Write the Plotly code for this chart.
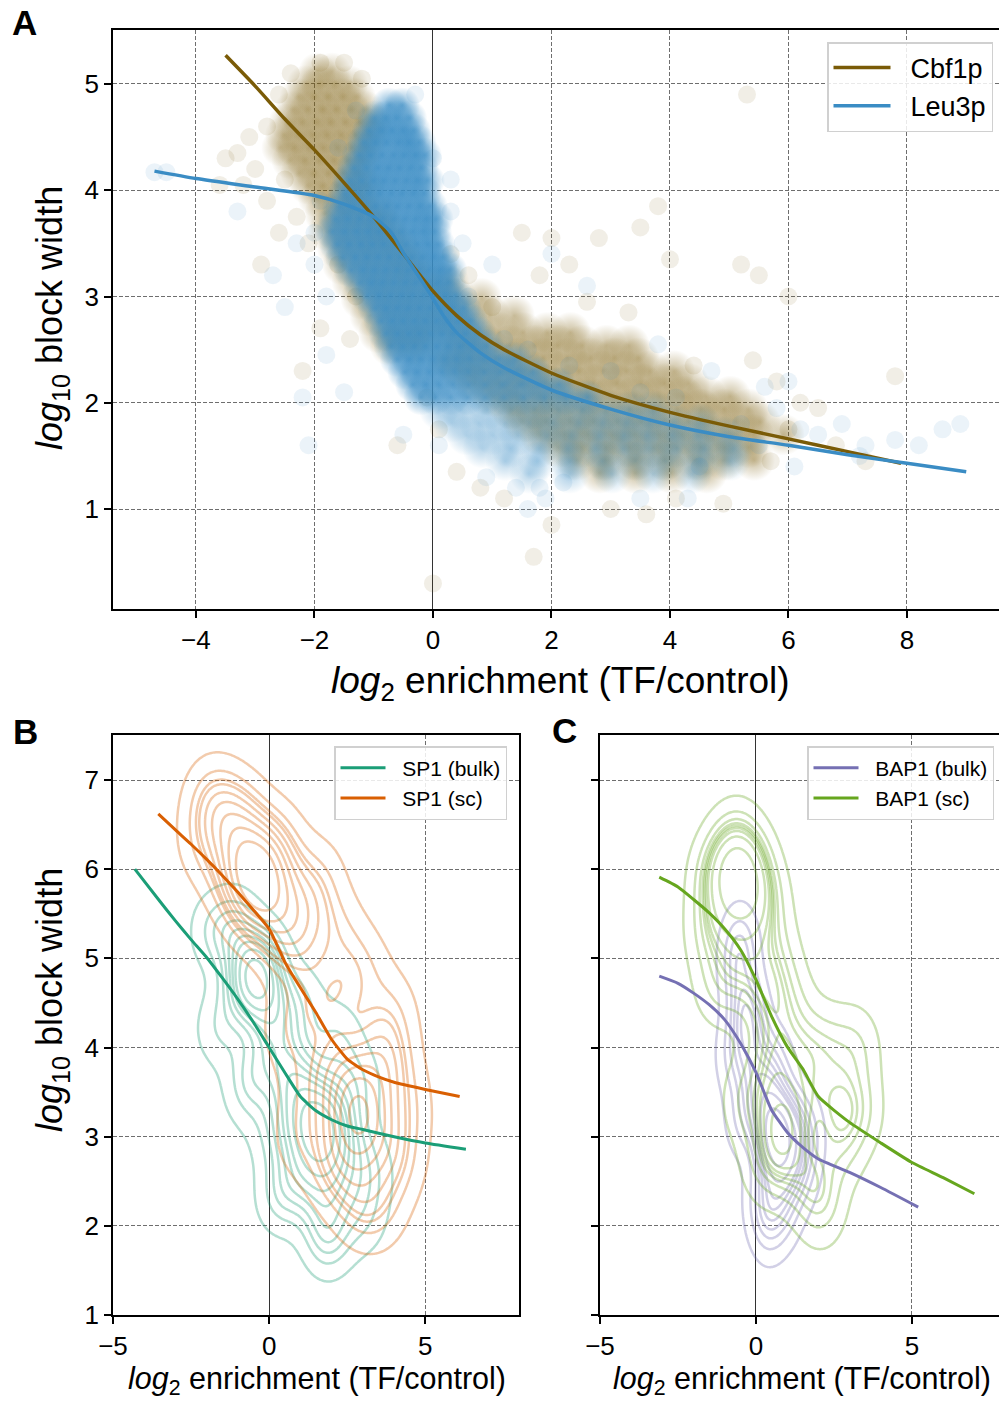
import numpy as np
import plotly.graph_objects as go

FONT = "Liberation Sans, Arial, Helvetica, sans-serif"

# ---------------- Panel A : smoothed trend curves ----------------
cbf1p_x = [-3.5, -3.0, -2.5, -2.0, -1.5, -1.0, -0.5, 0.0, 0.4, 0.8, 1.2, 2.0, 3.0, 4.0, 5.0, 6.0, 7.0, 7.9]
cbf1p_y = [5.27, 4.98, 4.67, 4.38, 4.07, 3.75, 3.40, 3.05, 2.82, 2.64, 2.50, 2.28, 2.07, 1.91, 1.78, 1.66, 1.54, 1.43]
leu3p_x = [-4.7, -4.0, -3.0, -2.0, -1.5, -1.0, -0.7, -0.5, -0.3, -0.1, 0.0, 0.2, 0.4, 0.8, 1.2, 2.0, 3.0, 4.0, 5.0, 6.0, 7.0, 8.0, 9.0]
leu3p_y = [4.18, 4.11, 4.03, 3.95, 3.87, 3.75, 3.60, 3.41, 3.24, 3.07, 2.98, 2.80, 2.66, 2.47, 2.33, 2.12, 1.94, 1.79, 1.68, 1.60, 1.51, 1.43, 1.35]

# ---------------- Panel A : scatter points (rows of y, list of x) ----------------
leu3p_core_rows = [
    (4.80, [-0.74, -0.52]),
    (4.68, [-0.98, -0.80, -0.61, -0.40]),
    (4.56, [-1.07, -0.86, -0.69, -0.50, -0.33]),
    (4.45, [-1.16, -0.97, -0.79, -0.58, -0.41, -0.24]),
    (4.33, [-1.24, -1.05, -0.86, -0.66, -0.49, -0.30, -0.15]),
    (4.21, [-1.33, -1.12, -0.93, -0.75, -0.57, -0.38, -0.20]),
    (4.09, [-1.41, -1.20, -1.00, -0.83, -0.64, -0.45, -0.27, -0.10]),
    (3.97, [-1.48, -1.28, -1.07, -0.89, -0.70, -0.52, -0.33, -0.15]),
    (3.85, [-1.57, -1.37, -1.16, -0.97, -0.78, -0.60, -0.41, -0.22, -0.05]),
    (3.73, [-1.64, -1.44, -1.24, -1.04, -0.85, -0.66, -0.47, -0.29, -0.11, 0.05]),
    (3.61, [-1.69, -1.48, -1.28, -1.09, -0.90, -0.71, -0.52, -0.33, -0.15, 0.02]),
    (3.49, [-1.62, -1.42, -1.22, -1.03, -0.84, -0.65, -0.46, -0.27, -0.09, 0.08]),
    (3.37, [-1.52, -1.31, -1.12, -0.93, -0.74, -0.55, -0.36, -0.18, 0.00, 0.16]),
    (3.25, [-1.38, -1.18, -0.99, -0.80, -0.61, -0.42, -0.24, -0.06, 0.12, 0.28]),
    (3.13, [-1.22, -1.03, -0.85, -0.66, -0.47, -0.29, -0.10, 0.08, 0.26]),
    (3.01, [-1.10, -0.91, -0.72, -0.53, -0.35, -0.16, 0.02, 0.20, 0.38]),
    (2.89, [-0.97, -0.79, -0.60, -0.42, -0.23, -0.05, 0.14, 0.32, 0.52]),
    (2.77, [-0.87, -0.68, -0.50, -0.31, -0.13, 0.06, 0.24, 0.43, 0.63]),
    (2.65, [-0.79, -0.60, -0.41, -0.23, -0.04, 0.15, 0.34, 0.54, 0.76]),
    (2.53, [-0.70, -0.51, -0.32, -0.13, 0.06, 0.25, 0.45, 0.66, 0.90]),
    (2.41, [-0.60, -0.40, -0.21, -0.01, 0.19, 0.40, 0.62, 0.86, 1.12, 1.38]),
    (2.29, [-0.47, -0.27, -0.06, 0.15, 0.37, 0.60, 0.86, 1.13, 1.41, 1.70]),
    (2.17, [-0.34, -0.12, 0.10, 0.34, 0.60, 0.88, 1.18, 1.49, 1.80, 2.12]),
    (2.05, [-0.20, 0.04, 0.30, 0.58, 0.88, 1.20, 1.53, 1.88, 2.25, 2.60]),
]
leu3p_tail_rows = [
    (1.93, [0.10, 0.47, 0.92, 1.33, 1.71, 2.12, 2.52, 2.93, 3.31, 3.72]),
    (1.81, [0.32, 0.77, 1.21, 1.63, 2.02, 2.47, 2.86, 3.27, 3.66, 4.07, 4.52]),
    (1.69, [0.57, 1.02, 1.44, 1.92, 2.33, 2.81, 3.22, 3.61, 4.03, 4.46, 4.92]),
    (1.57, [0.83, 1.31, 1.79, 2.28, 2.74, 3.21, 3.67, 4.12, 4.58, 5.08]),
    (1.45, [1.22, 1.76, 2.31, 2.86, 3.42, 3.93, 4.51, 5.02]),
    (1.33, [1.62, 2.31, 3.02, 3.71, 4.38]),
]
leu3p_faint_xy = [(-4.7, 4.17), (-4.5, 4.17), (-2.7, 3.2), (-2.0, 3.3), (-2.3, 3.5), (-3.3, 3.8),
                  (-2.5, 2.9), (-1.8, 3.0), (-0.3, 4.9), (0.0, 4.3), (0.3, 3.8), (0.5, 3.5), (1.0, 3.3),
                  (2.0, 3.4), (2.6, 3.1), (-2.1, 1.6), (-2.2, 2.05), (-1.8, 2.45), (-1.5, 2.1),
                  (-0.5, 1.7), (0.1, 1.6), (0.9, 1.3), (1.6, 1.0), (1.9, 1.1), (3.5, 1.1), (4.3, 1.1),
                  (1.8, 1.2), (2.2, 1.25), (5.8, 1.95), (6.2, 1.75), (6.5, 1.7), (6.9, 1.8), (7.3, 1.6),
                  (7.8, 1.65), (8.2, 1.6), (8.6, 1.75), (8.9, 1.8), (6.1, 1.4), (7.2, 1.5), (5.6, 2.15),
                  (6.0, 2.2), (4.7, 2.3), (3.8, 2.55), (5.5, 1.6), (5.2, 1.8), (4.5, 1.4), (3.0, 2.3),
                  (3.5, 2.1), (4.1, 2.05), (1.2, 2.6), (1.6, 2.5), (2.3, 2.35), (-1.3, 4.75),
                  (-1.6, 4.4), (-1.9, 3.9), (-2.0, 3.6), (0.3, 4.1), (0.6, 3.0), (1.4, 1.2)]

cbf1p_core_rows = [
    (5.12, [-1.95, -1.70]),
    (5.00, [-2.15, -1.92, -1.66, -1.41]),
    (4.88, [-2.27, -2.01, -1.77, -1.52, -1.28]),
    (4.76, [-2.36, -2.11, -1.86, -1.63, -1.38, -1.14]),
    (4.64, [-2.46, -2.21, -1.96, -1.73, -1.48, -1.24, -1.01]),
    (4.52, [-2.52, -2.27, -2.03, -1.79, -1.55, -1.31, -1.07]),
    (4.40, [-2.58, -2.34, -2.09, -1.85, -1.61, -1.37, -1.13]),
    (4.28, [-2.41, -2.16, -1.91, -1.67, -1.43, -1.19]),
    (4.16, [-2.26, -2.01, -1.76, -1.51, -1.26]),
    (4.04, [-2.11, -1.86, -1.61, -1.36, -1.12]),
    (3.92, [-1.96, -1.71, -1.46, -1.21]),
]
cbf1p_band_rows = [
    (3.78, [-1.82, -1.51, -1.21, -0.92]),
    (3.62, [-1.76, -1.41, -1.06, -0.76]),
    (3.46, [-1.61, -1.26, -0.91, -0.56]),
    (3.30, [-1.52, -1.12, -0.71, -0.36]),
    (3.14, [-1.36, -0.96, -0.56, -0.16, 0.26]),
    (2.98, [-1.21, -0.81, -0.41, 0.02, 0.41, 0.82]),
    (2.82, [-1.06, -0.66, -0.26, 0.16, 0.56, 0.96, 1.37]),
    (2.66, [-0.91, -0.51, -0.11, 0.31, 0.72, 1.12, 1.52, 1.93, 2.32]),
    (2.54, [-0.72, -0.31, 0.52, 0.91, 1.31, 1.72, 2.11, 2.52, 2.93, 3.31]),
    (2.42, [0.22, 0.66, 1.06, 1.46, 1.86, 2.27, 2.66, 3.06, 3.47]),
    (2.30, [0.46, 0.86, 1.27, 1.66, 2.06, 2.46, 2.87, 3.26, 3.66, 4.07]),
    (2.18, [0.71, 1.12, 1.51, 1.91, 2.32, 2.71, 3.11, 3.52, 3.91, 4.32]),
    (2.06, [1.02, 1.41, 1.82, 2.21, 2.62, 3.02, 3.41, 3.82, 4.22, 4.61, 5.02]),
    (1.94, [1.31, 1.72, 2.11, 2.52, 2.91, 3.32, 3.71, 4.12, 4.52, 4.91, 5.32]),
    (1.82, [1.52, 1.91, 2.32, 2.71, 3.12, 3.52, 3.91, 4.32, 4.71, 5.12, 5.52]),
    (1.70, [1.81, 2.22, 2.61, 3.02, 3.41, 3.82, 4.21, 4.62, 5.02, 5.41, 5.92]),
    (1.58, [2.12, 2.51, 2.92, 3.31, 3.72, 4.11, 4.52, 4.91, 5.32]),
    (1.46, [2.42, 2.91, 3.42, 3.91, 4.42, 4.91, 5.42]),
    (1.34, [2.82, 3.42, 4.02, 4.62]),
]
cbf1p_faint_xy = [(-3.3, 4.35), (-3.5, 4.3), (-3.0, 4.2), (-3.2, 4.05), (-2.8, 3.9), (-2.5, 4.1),
                  (-3.6, 4.05), (-2.3, 3.75), (-2.6, 3.6), (-2.1, 3.5), (-2.9, 3.3), (-1.6, 3.3),
                  (-1.3, 3.0), (-2.2, 2.3), (-1.9, 2.7), (-1.4, 2.6), (0.0, 0.3), (-1.9, 5.2),
                  (-1.5, 5.2), (1.8, 3.2), (2.3, 3.3), (2.8, 3.55), (3.5, 3.65), (3.8, 3.85),
                  (4.0, 3.35), (5.2, 3.3), (5.5, 3.2), (5.3, 4.9), (6.0, 3.0), (1.5, 3.6), (2.0, 3.55),
                  (5.4, 2.4), (5.8, 2.2), (6.2, 2.0), (6.5, 1.95), (6.0, 1.75), (6.8, 1.6), (7.8, 2.25),
                  (7.3, 1.45), (5.7, 1.45), (3.0, 1.0), (3.6, 0.95), (2.0, 0.85), (1.7, 0.55), (4.1, 1.1),
                  (4.9, 1.05), (1.2, 1.1), (0.8, 1.2), (0.4, 1.35), (2.6, 2.95), (3.3, 2.85), (4.4, 2.35),
                  (0.3, 3.4), (0.6, 3.2), (1.0, 2.9), (-0.6, 1.6), (0.1, 1.75), (-0.1, 2.05),
                  (-2.8, 4.6), (-2.6, 4.9), (-2.4, 5.1), (-1.2, 5.05), (-3.1, 4.5)]

# ---------------- Panel B / C : trend curves ----------------
sp1_bulk_x = [-4.3, -3.5, -3.0, -2.5, -2.0, -1.5, -1.0, -0.5, 0.0, 0.5, 1.0, 1.5, 2.0, 2.5, 3.0, 4.0, 5.0, 6.3]
sp1_bulk_y = [6.00, 5.64, 5.42, 5.21, 5.01, 4.78, 4.54, 4.28, 4.00, 3.72, 3.45, 3.29, 3.19, 3.12, 3.08, 3.00, 2.93, 2.86]
sp1_sc_x = [-3.55, -3.0, -2.5, -2.0, -1.5, -1.0, -0.5, 0.0, 0.25, 0.5, 0.75, 1.0, 1.5, 2.0, 2.5, 3.0, 3.5, 4.0, 5.0, 6.1]
sp1_sc_y = [6.62, 6.44, 6.28, 6.11, 5.93, 5.74, 5.54, 5.33, 5.15, 4.96, 4.81, 4.67, 4.39, 4.09, 3.87, 3.75, 3.67, 3.61, 3.53, 3.45]
bap1_bulk_x = [-3.1, -2.5, -2.0, -1.5, -1.0, -0.5, 0.0, 0.5, 1.0, 1.5, 2.0, 3.0, 4.0, 5.2]
bap1_bulk_y = [4.80, 4.72, 4.61, 4.48, 4.31, 4.05, 3.72, 3.30, 3.05, 2.88, 2.75, 2.60, 2.43, 2.21]
bap1_sc_x = [-3.1, -2.5, -2.0, -1.5, -1.0, -0.5, 0.0, 0.5, 1.0, 1.5, 2.0, 3.0, 4.0, 5.0, 6.0, 7.0]
bap1_sc_y = [5.91, 5.80, 5.66, 5.51, 5.33, 5.10, 4.76, 4.35, 4.01, 3.76, 3.45, 3.16, 2.93, 2.71, 2.54, 2.36]

# ---------------- Panel B / C : observations behind the density contours ----------------
sp1_bulk_obs = [(-0.4, 4.8), (-0.4, 4.8), (-0.45, 4.75), (-0.8, 5.1), (-0.1, 4.5), (-1.1, 5.4), (0.2, 4.3),
                (-0.9, 4.6), (-0.1, 5.0), (1.6, 3.1), (1.6, 3.1), (1.65, 3.05), (1.3, 3.4), (1.9, 2.8),
                (1.0, 3.7), (2.2, 2.5), (1.2, 2.8), (2.0, 3.4), (1.6, 2.4), (2.6, 3.0), (0.8, 3.2),
                (0.4, 4.0), (0.6, 3.6), (-0.4, 3.8), (0.2, 3.0), (0.8, 2.5), (1.8, 2.0), (2.8, 3.6),
                (2.2, 4.1), (1.0, 4.5), (-1.6, 4.2), (-1.8, 5.3), (-0.7, 3.5), (0.3, 2.3), (3.2, 2.6),
                (1.9, 1.8), (3.0, 2.1)]
sp1_sc_obs = [(-0.3, 5.8), (-0.3, 5.8), (-0.35, 5.85), (-0.7, 6.1), (-0.7, 6.1), (-1.1, 6.4), (-1.5, 6.7),
              (0.1, 5.5), (0.4, 5.2), (0.0, 6.1), (-0.6, 5.6), (-1.2, 5.9), (0.6, 5.7), (-1.9, 6.8),
              (-2.1, 6.3), (1.0, 5.1), (0.3, 6.3), (-0.8, 6.6), (2.8, 3.3), (2.8, 3.3), (2.85, 3.25),
              (2.5, 3.6), (3.1, 3.0), (2.3, 3.0), (3.3, 3.6), (2.7, 2.6), (2.2, 3.9), (3.6, 2.9),
              (2.9, 2.2), (3.5, 4.0), (2.0, 2.6), (1.5, 4.5), (2.3, 4.6), (3.0, 4.9), (4.0, 3.8),
              (4.2, 2.7), (3.6, 2.2), (1.2, 5.5), (2.2, 5.3), (0.6, 4.2), (1.3, 3.6), (3.9, 4.4),
              (1.0, 3.0), (4.4, 3.3), (1.6, 5.9)]
bap1_bulk_obs = [(-0.3, 4.4), (-0.3, 4.4), (-0.6, 4.9), (-0.1, 4.0), (-0.5, 5.2), (0.5, 3.0), (0.5, 3.0),
                 (0.55, 2.95), (0.3, 3.4), (0.7, 2.6), (0.2, 2.3), (1.0, 2.8), (0.0, 3.6), (0.8, 3.3),
                 (0.4, 2.0), (1.4, 2.6), (1.2, 3.2), (-0.4, 3.2), (0.9, 2.2), (-0.7, 3.9), (0.6, 3.8),
                 (1.6, 3.0)]
bap1_sc_obs = [(-0.5, 5.85), (-0.5, 5.85), (-0.55, 5.9), (-0.9, 6.1), (-1.4, 5.9), (-1.5, 5.3), (-0.1, 6.0),
               (0.3, 5.6), (-0.2, 5.4), (-0.9, 5.5), (0.6, 5.0), (-1.2, 4.7), (-0.5, 4.9), (0.2, 4.6),
               (1.0, 4.5), (-0.6, 6.3), (0.8, 3.1), (0.8, 3.1), (0.6, 3.6), (1.1, 2.7), (0.4, 4.0),
               (1.6, 3.4), (2.6, 3.4), (2.7, 2.9), (2.2, 4.0), (1.8, 2.5), (3.3, 3.3), (1.4, 4.0),
               (2.1, 2.2), (3.2, 4.0), (-0.3, 3.4), (0.3, 2.7)]

# ---------------- colours ----------------
C_CBF = "#7a5b07"
C_LEU = "#3a8cc4"
C_SPB = "#1b9e77"
C_SPS = "#d95f02"
C_BAB = "#7570b3"
C_BAS = "#66a61e"


def rgba(hexc, a):
    h = hexc.lstrip("#")
    return "rgba(%d,%d,%d,%s)" % (int(h[0:2], 16), int(h[2:4], 16), int(h[4:6], 16), a)


def rows_to_xy(rows):
    xs, ys = [], []
    for yv, xl in rows:
        for xv in xl:
            xs.append(xv)
            ys.append(yv)
    return xs, ys


def kde(obs, hx, hy, gx, gy):
    X, Y = np.meshgrid(gx, gy)
    Z = np.zeros_like(X)
    for a, b in obs:
        Z += np.exp(-0.5 * (((X - a) / hx) ** 2 + ((Y - b) / hy) ** 2))
    return Z


def isoprop_levels(Z, props):
    vals = np.sort(Z.ravel())[::-1]
    cum = np.cumsum(vals) / vals.sum()
    idx = np.searchsorted(cum, 1 - np.asarray(props))
    return vals[np.clip(idx, 0, len(vals) - 1)]


fig = go.Figure()


def add_soft(rows, col, alpha, size):
    # radial gradient: solid colour at centre fading to transparent at the rim
    cx, cy = rows_to_xy(rows)
    fig.add_trace(go.Scatter(x=cx, y=cy, mode="markers", xaxis="x", yaxis="y", showlegend=False,
                             marker=dict(size=size, color=rgba(col, 0), opacity=alpha,
                                         gradient=dict(type="radial", color=rgba(col, 1)),
                                         line=dict(width=0)),
                             hoverinfo="skip"))


def add_faint(pts, col):
    fig.add_trace(go.Scatter(x=[p[0] for p in pts], y=[p[1] for p in pts], mode="markers", xaxis="x",
                             yaxis="y", showlegend=False,
                             marker=dict(size=18, color=col, opacity=0.10, line=dict(width=0)),
                             hoverinfo="skip"))


# ---- Panel A scatter (Cbf1p below, Leu3p above) ----
add_faint(cbf1p_faint_xy, C_CBF)
add_soft(cbf1p_core_rows, C_CBF, 0.34, 38)
add_soft(cbf1p_band_rows, C_CBF, 0.40, 42)
add_faint(leu3p_faint_xy, C_LEU)
add_soft(leu3p_core_rows, C_LEU, 0.70, 36)
add_soft(leu3p_tail_rows, C_LEU, 0.38, 40)

fig.add_trace(go.Scatter(x=cbf1p_x, y=cbf1p_y, mode="lines", name="\u00a0\u00a0Cbf1p", xaxis="x", yaxis="y",
                         line=dict(color=C_CBF, width=3.5, shape="spline", smoothing=0.6), legend="legend"))
fig.add_trace(go.Scatter(x=leu3p_x, y=leu3p_y, mode="lines", name="\u00a0\u00a0Leu3p", xaxis="x", yaxis="y",
                         line=dict(color=C_LEU, width=3.5, shape="spline", smoothing=0.6), legend="legend"))

# ---- Panels B / C density contours ----
gx = np.linspace(-5.5, 8.5, 281)
gy = np.linspace(0.5, 8.0, 301)
props = np.linspace(0.05, 1, 10)[:-1]
for obs, col, xa, ya, hx, hy in [
    (sp1_bulk_obs, C_SPB, "x2", "y2", 0.55, 0.30),
    (sp1_sc_obs, C_SPS, "x2", "y2", 0.62, 0.34),
    (bap1_bulk_obs, C_BAB, "x3", "y3", 0.40, 0.30),
    (bap1_sc_obs, C_BAS, "x3", "y3", 0.55, 0.33),
]:
    Z = kde(obs, hx, hy, gx, gy)
    for lv in isoprop_levels(Z, props):
        fig.add_trace(go.Contour(x=gx, y=gy, z=Z, xaxis=xa, yaxis=ya, autocontour=False,
                                 contours=dict(start=float(lv), end=float(lv), size=1.0, coloring="none",
                                               showlabels=False),
                                 line=dict(color=col, width=2.5, smoothing=1.0),
                                 showscale=False, opacity=0.32, hoverinfo="skip", showlegend=False))

fig.add_trace(go.Scatter(x=sp1_bulk_x, y=sp1_bulk_y, mode="lines", name="\u00a0\u00a0SP1 (bulk)", xaxis="x2",
                         yaxis="y2", line=dict(color=C_SPB, width=3, shape="spline", smoothing=0.5),
                         legend="legend2"))
fig.add_trace(go.Scatter(x=sp1_sc_x, y=sp1_sc_y, mode="lines", name="\u00a0\u00a0SP1 (sc)", xaxis="x2",
                         yaxis="y2", line=dict(color=C_SPS, width=3, shape="spline", smoothing=0.5),
                         legend="legend2"))
fig.add_trace(go.Scatter(x=bap1_bulk_x, y=bap1_bulk_y, mode="lines", name="\u00a0\u00a0BAP1 (bulk)", xaxis="x3",
                         yaxis="y3", line=dict(color=C_BAB, width=3, shape="spline", smoothing=0.5),
                         legend="legend3"))
fig.add_trace(go.Scatter(x=bap1_sc_x, y=bap1_sc_y, mode="lines", name="\u00a0\u00a0BAP1 (sc)", xaxis="x3",
                         yaxis="y3", line=dict(color=C_BAS, width=3, shape="spline", smoothing=0.5),
                         legend="legend3"))

W, H = 999, 1401


def px_x(p):
    return p / W


def px_y(p):
    return 1 - p / H


TICK = 26
axis_common = dict(showline=True, linecolor="black", linewidth=1.6, ticks="outside", ticklen=7, tickwidth=1.6,
                   tickcolor="black", showgrid=True, gridcolor="#6e6e6e", gridwidth=1, griddash="4px,2px",
                   tickfont=dict(family=FONT, size=TICK, color="black"), zeroline=False, automargin=False)

fig.update_layout(
    width=W, height=H, margin=dict(l=0, r=0, t=0, b=0, autoexpand=False),
    paper_bgcolor="white", plot_bgcolor="white",
    font=dict(family=FONT, color="black"),
    xaxis=dict(axis_common, domain=[px_x(113), 1.0], range=[-5.40, 9.553], tickvals=[-4, -2, 0, 2, 4, 6, 8],
               ticktext=["\u22124", "\u22122", "0", "2", "4", "6", "8"], mirror=True, anchor="y",
               zeroline=True, zerolinecolor="#333333", zerolinewidth=1.2),
    yaxis=dict(axis_common, domain=[px_y(609), px_y(30)], range=[0.059, 5.508], tickvals=[1, 2, 3, 4, 5],
               anchor="x"),
    xaxis2=dict(axis_common, domain=[px_x(113), px_x(519)], range=[-5, 8], tickvals=[-5, 0, 5],
                ticktext=["\u22125", "0", "5"], mirror=True, anchor="y2",
                zeroline=True, zerolinecolor="#333333", zerolinewidth=1.2),
    yaxis2=dict(axis_common, domain=[px_y(1315), px_y(735)], range=[1, 7.505], tickvals=[1, 2, 3, 4, 5, 6, 7],
                mirror=True, anchor="x2"),
    xaxis3=dict(axis_common, domain=[px_x(600), 1.0], range=[-5, 7.79], tickvals=[-5, 0, 5],
                ticktext=["\u22125", "0", "5"], mirror=True, anchor="y3",
                zeroline=True, zerolinecolor="#333333", zerolinewidth=1.2),
    yaxis3=dict(axis_common, domain=[px_y(1315), px_y(735)], range=[1, 7.505], tickvals=[1, 2, 3, 4, 5, 6, 7],
                showticklabels=False, anchor="x3"),
    legend=dict(x=px_x(993), y=px_y(42), xanchor="right", yanchor="top", bgcolor="rgba(255,255,255,0.85)",
                bordercolor="#d0d0d0", borderwidth=1.5, font=dict(family=FONT, size=27, color="black"),
                tracegroupgap=0, itemwidth=57),
    legend2=dict(x=px_x(507), y=px_y(746), xanchor="right", yanchor="top", bgcolor="rgba(255,255,255,0.85)",
                 bordercolor="#d0d0d0", borderwidth=1.5, font=dict(family=FONT, size=21, color="black"),
                 tracegroupgap=0, itemwidth=45),
    legend3=dict(x=px_x(994), y=px_y(746), xanchor="right", yanchor="top", bgcolor="rgba(255,255,255,0.85)",
                 bordercolor="#d0d0d0", borderwidth=1.5, font=dict(family=FONT, size=21, color="black"),
                 tracegroupgap=0, itemwidth=45),
)

annotations = [
    dict(text="<b>A</b>", x=px_x(10), y=px_y(23), xanchor="left", yanchor="middle", font=dict(size=35)),
    dict(text="<b>B</b>", x=px_x(11), y=px_y(731), xanchor="left", yanchor="middle", font=dict(size=35)),
    dict(text="<b>C</b>", x=px_x(550), y=px_y(730), xanchor="left", yanchor="middle", font=dict(size=35)),
    dict(text="<i>log</i><sub>2</sub> enrichment (TF/control)", x=px_x(560), y=px_y(683), xanchor="center",
         yanchor="middle", font=dict(size=37)),
    dict(text="<i>log</i><sub>10</sub> block width", x=px_x(52), y=px_y(318), xanchor="center",
         yanchor="middle", textangle=-90, font=dict(size=36)),
    dict(text="<i>log</i><sub>2</sub> enrichment (TF/control)", x=px_x(317), y=px_y(1380), xanchor="center",
         yanchor="middle", font=dict(size=30.5)),
    dict(text="<i>log</i><sub>10</sub> block width", x=px_x(52), y=px_y(1000), xanchor="center",
         yanchor="middle", textangle=-90, font=dict(size=36)),
    dict(text="<i>log</i><sub>2</sub> enrichment (TF/control)", x=px_x(802), y=px_y(1380), xanchor="center",
         yanchor="middle", font=dict(size=30.5)),
]
for a in annotations:
    a.update(xref="paper", yref="paper", showarrow=False)
    a["font"].update(family=FONT, color="black")
fig.update_layout(annotations=annotations)

fig.write_html("out.html")
